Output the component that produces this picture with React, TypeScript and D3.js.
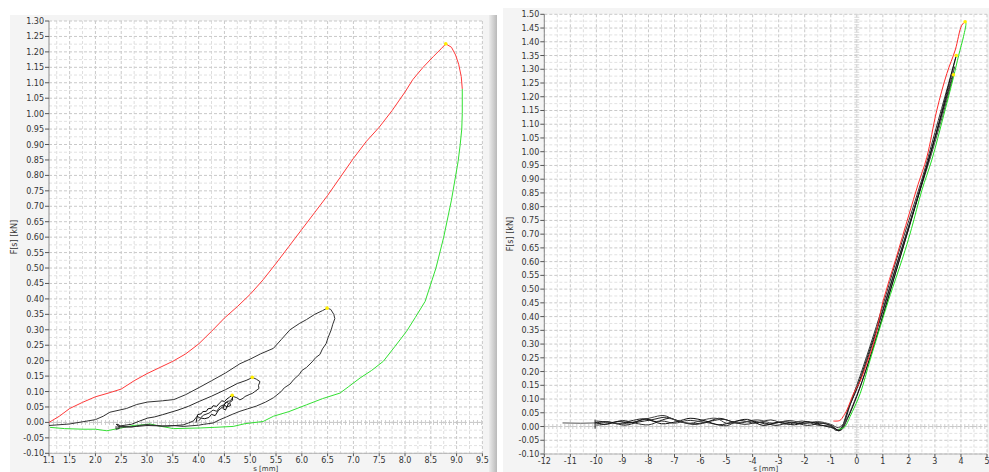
import React from "react";
import * as d3 from "d3";

type P = [number, number];

// ---------- LEFT PANEL DATA ----------
const leftXTicks = [1.1, 1.5, 2.0, 2.5, 3.0, 3.5, 4.0, 4.5, 5.0, 5.5, 6.0, 6.5, 7.0, 7.5, 8.0, 8.5, 9.0, 9.5];
const leftYTicks = d3.range(-2, 27).map((i) => i * 0.05);

const leftRed: P[] = [
  [1.1, 0.0], [1.3, 0.02], [1.5, 0.045], [1.75, 0.065], [2.0, 0.083], [2.25, 0.095], [2.5, 0.108],
  [2.75, 0.135], [3.0, 0.158], [3.25, 0.178], [3.5, 0.198], [3.75, 0.222], [4.0, 0.254], [4.25, 0.295],
  [4.5, 0.338], [4.75, 0.375], [5.0, 0.415], [5.25, 0.462], [5.5, 0.515], [5.75, 0.57], [6.0, 0.625],
  [6.25, 0.68], [6.5, 0.735], [6.75, 0.795], [7.0, 0.855], [7.25, 0.91], [7.5, 0.956], [7.75, 1.01],
  [8.0, 1.07], [8.15, 1.11], [8.35, 1.15], [8.55, 1.185], [8.7, 1.21], [8.79, 1.226], [8.9, 1.215],
  [8.98, 1.19], [9.04, 1.16], [9.09, 1.12], [9.11, 1.08],
];
const leftGreen: P[] = [
  [9.11, 1.08], [9.11, 1.0], [9.1, 0.95], [9.07, 0.9], [9.03, 0.846], [8.9, 0.72], [8.75, 0.6],
  [8.6, 0.5], [8.39, 0.392], [8.2, 0.34], [8.03, 0.295], [7.8, 0.245], [7.58, 0.198], [7.35, 0.168],
  [7.13, 0.144], [6.9, 0.115], [6.74, 0.095], [6.4, 0.077], [6.09, 0.057], [5.75, 0.035], [5.45, 0.02],
  [5.25, 0.003], [4.9, -0.004], [4.67, -0.013], [4.3, -0.016], [4.03, -0.018], [3.51, -0.02],
  [3.25, -0.012], [3.06, -0.005], [2.9, -0.008], [2.73, -0.01], [2.5, -0.018], [2.22, -0.027],
  [2.0, -0.022], [1.76, -0.022], [1.4, -0.02], [1.12, -0.016],
];
const leftMedium: P[] = [
  [1.1, -0.01], [1.5, -0.005], [2.0, 0.009], [2.15, 0.02], [2.28, 0.033], [2.6, 0.045], [2.8, 0.058],
  [3.01, 0.066], [3.3, 0.07], [3.52, 0.074], [3.75, 0.09], [4.01, 0.113], [4.25, 0.135], [4.52, 0.16],
  [4.8, 0.19], [5.0, 0.205], [5.2, 0.222], [5.45, 0.24], [5.6, 0.268], [5.77, 0.3], [5.95, 0.32],
  [6.09, 0.333], [6.25, 0.35], [6.4, 0.362], [6.49, 0.37], [6.56, 0.366], [6.62, 0.35], [6.64, 0.336],
  [6.6, 0.318], [6.57, 0.3], [6.51, 0.275], [6.47, 0.255], [6.4, 0.238], [6.35, 0.22], [6.27, 0.21],
  [6.2, 0.196], [6.09, 0.178], [6.0, 0.168], [5.95, 0.155], [5.85, 0.14], [5.77, 0.124], [5.66, 0.112],
  [5.6, 0.1], [5.45, 0.08], [5.3, 0.066], [5.12, 0.053], [4.95, 0.044], [4.8, 0.036], [4.65, 0.026],
  [4.54, 0.018], [4.4, 0.008], [4.28, -0.002], [4.1, -0.006], [4.0, -0.009], [3.7, -0.013], [3.5, -0.01],
  [3.3, -0.012], [3.0, -0.007], [2.85, -0.01], [2.7, -0.015], [2.45, -0.012],
];
const leftSmall: P[] = [
  [2.4, -0.012], [2.4, -0.022], [2.46, -0.02], [2.46, -0.008], [2.4, -0.006], [2.45, -0.012],
  [2.7, -0.006], [2.85, 0.004], [3.01, 0.014], [3.15, 0.018], [3.3, 0.025], [3.6, 0.04], [3.8, 0.052],
  [4.01, 0.068], [4.25, 0.085], [4.52, 0.106], [4.75, 0.126], [4.92, 0.136], [5.0, 0.142], [5.04, 0.146],
  [5.12, 0.14], [5.19, 0.132], [5.16, 0.12], [5.17, 0.11], [5.09, 0.1], [5.04, 0.094], [4.98, 0.09],
  [4.9, 0.084], [4.86, 0.078], [4.8, 0.073], [4.74, 0.08], [4.67, 0.084], [4.62, 0.07], [4.55, 0.068],
  [4.5, 0.058], [4.42, 0.052], [4.35, 0.036], [4.28, 0.04], [4.2, 0.03], [4.1, 0.024], [4.03, 0.014],
  [3.97, 0.02], [3.9, 0.005], [3.8, -0.002], [3.7, -0.008], [3.4, -0.012], [3.0, -0.01], [2.8, -0.013],
  [2.6, -0.015], [2.42, -0.015],
];
const leftTiny: P[] = [
  [3.95, 0.0], [3.98, 0.025], [4.05, 0.028], [4.08, 0.035], [4.15, 0.036], [4.18, 0.044], [4.25, 0.046],
  [4.28, 0.054], [4.35, 0.052], [4.4, 0.062], [4.45, 0.07], [4.5, 0.068], [4.55, 0.076], [4.6, 0.082],
  [4.65, 0.088], [4.66, 0.072], [4.6, 0.064], [4.62, 0.055], [4.55, 0.05], [4.5, 0.056], [4.47, 0.045],
  [4.52, 0.04], [4.58, 0.062], [4.53, 0.066], [4.48, 0.052], [4.42, 0.044], [4.38, 0.038], [4.32, 0.022],
  [4.25, 0.026], [4.2, 0.016], [4.12, 0.012], [4.05, 0.014], [4.0, 0.005],
];
const leftPeaks: P[] = [[8.79, 1.226], [6.49, 0.37], [5.04, 0.146], [4.65, 0.088]];

// ---------- RIGHT PANEL DATA ----------
const rightXTicks = d3.range(-12, 6);
const rightYTicks = d3.range(-2, 31).map((i) => i * 0.05);

const rightLead: P[] = [[-11.3, 0.013], [-10.6, 0.012], [-10.05, 0.013]];
const rightCross: P[] = [[-10.05, -0.008], [-10.05, 0.025]];

const rightRed: P[] = [
  [-0.9, 0.02], [-0.65, 0.022], [-0.5, 0.04], [-0.38, 0.06], [-0.1, 0.125], [0.13, 0.165], [0.4, 0.235],
  [0.64, 0.3], [1.02, 0.46], [1.5, 0.61], [2.0, 0.77], [2.35, 0.88], [2.69, 0.98], [3.07, 1.15],
  [3.46, 1.285], [3.78, 1.37], [4.03, 1.46], [4.16, 1.473],
];
const rightGreen: P[] = [
  [4.16, 1.473], [4.19, 1.467], [4.1, 1.42], [3.91, 1.35], [3.71, 1.27], [3.33, 1.13], [2.88, 0.97],
  [2.5, 0.86], [2.1, 0.72], [1.85, 0.64], [1.22, 0.46], [0.9, 0.363], [0.51, 0.242], [0.13, 0.12],
  [-0.26, 0.036], [-0.45, 0.0], [-0.57, -0.007], [-0.7, -0.01],
];
const rightBlack1: P[] = [
  [-10.05, 0.012], [-9.6, 0.018], [-9.2, 0.01], [-8.7, 0.02], [-8.2, 0.028], [-7.7, 0.018], [-7.2, 0.03],
  [-6.7, 0.015], [-6.2, 0.01], [-5.6, 0.02], [-5.1, 0.026], [-4.6, 0.012], [-4.0, 0.02], [-3.4, 0.008],
  [-2.8, 0.018], [-2.2, 0.01], [-1.6, 0.015], [-1.0, 0.005], [-0.75, -0.012], [-0.6, -0.006],
  [-0.3, 0.07], [0.0, 0.14], [0.5, 0.28], [1.0, 0.425], [1.5, 0.58], [2.0, 0.73], [2.5, 0.885],
  [3.0, 1.05], [3.4, 1.18], [3.71, 1.28],
];
const rightBlack2: P[] = [
  [-10.0, 0.005], [-9.5, 0.01], [-9.0, 0.022], [-8.5, 0.012], [-8.0, 0.006], [-7.5, 0.02], [-7.0, 0.012],
  [-6.5, 0.022], [-6.0, 0.018], [-5.5, 0.01], [-5.0, 0.003], [-4.5, 0.022], [-3.9, 0.012], [-3.3, 0.024],
  [-2.7, 0.008], [-2.1, 0.02], [-1.5, 0.005], [-1.0, 0.0], [-0.8, -0.014], [-0.62, -0.01], [-0.35, 0.06],
  [0.0, 0.15], [0.5, 0.29], [1.0, 0.44], [1.5, 0.6], [2.0, 0.75], [2.5, 0.9], [3.0, 1.07], [3.5, 1.24],
  [3.82, 1.35],
];
const rightBlack3: P[] = [
  [-10.0, 0.02], [-9.4, 0.014], [-8.9, 0.005], [-8.4, 0.016], [-7.9, 0.024], [-7.3, 0.034], [-6.9, 0.022],
  [-6.3, 0.008], [-5.8, 0.014], [-5.3, 0.03], [-4.8, 0.018], [-4.3, 0.008], [-3.7, 0.016], [-3.1, 0.004],
  [-2.5, 0.016], [-1.9, 0.004], [-1.3, 0.012], [-0.85, -0.005], [-0.7, -0.016], [-0.55, -0.004],
  [-0.25, 0.08], [0.1, 0.16], [0.6, 0.3], [1.1, 0.45], [1.6, 0.61], [2.1, 0.76], [2.6, 0.92],
  [3.1, 1.08], [3.5, 1.22], [3.76, 1.31],
];
const rightBlack4: P[] = [
  [3.71, 1.28], [3.55, 1.22], [3.2, 1.1], [2.8, 0.97], [2.3, 0.82], [1.8, 0.66], [1.3, 0.5],
  [0.8, 0.34], [0.3, 0.19], [-0.1, 0.09], [-0.45, 0.018], [-0.7, -0.004], [-1.0, 0.008], [-1.5, 0.018],
  [-2.0, 0.012], [-2.6, 0.022], [-3.2, 0.012], [-3.8, 0.024], [-4.4, 0.016], [-5.0, 0.012], [-5.4, 0.03],
  [-5.9, 0.024], [-6.4, 0.012], [-7.0, 0.024], [-7.4, 0.04], [-7.9, 0.032], [-8.4, 0.02], [-9.0, 0.01],
  [-9.5, 0.016], [-10.0, 0.01],
];
const rightBlack5: P[] = [
  [3.82, 1.35], [3.6, 1.27], [3.25, 1.14], [2.85, 1.0], [2.4, 0.85], [1.9, 0.69], [1.4, 0.53],
  [0.9, 0.37], [0.4, 0.22], [0.0, 0.11], [-0.35, 0.03], [-0.62, -0.014], [-0.9, -0.006], [-1.4, 0.006],
  [-1.9, 0.018], [-2.4, 0.006], [-3.0, 0.016], [-3.6, 0.004], [-4.2, 0.026], [-4.7, 0.018],
  [-5.3, 0.006], [-5.8, 0.02], [-6.4, 0.03], [-6.9, 0.018], [-7.5, 0.01], [-8.1, 0.028], [-8.6, 0.014],
  [-9.2, 0.018], [-9.7, 0.008], [-10.05, 0.016],
];
const rightPeaks: P[] = [[4.16, 1.473], [3.82, 1.35], [3.71, 1.28]];

type Series = { pts: P[]; color: string; curve: d3.CurveFactory; width?: number };

const fontFam = "'DejaVu Sans', Verdana, sans-serif";

function Panel(props: {
  xDomain: [number, number];
  xRange: [number, number];
  yDomain: [number, number];
  yRange: [number, number];
  xTicks: number[];
  yTicks: number[];
  xFmt: (v: number) => string;
  xMinor: number;
  yMinor: number;
  series: Series[];
  peaks: P[];
  zeroX: boolean;
  yLabelX: number;
  xLabelY: number;
}) {
  const { xDomain, xRange, yDomain, yRange, xTicks, yTicks, xFmt, xMinor, yMinor, series, peaks } = props;
  const x = d3.scaleLinear().domain(xDomain).range(xRange);
  const y = d3.scaleLinear().domain(yDomain).range(yRange);
  const [x0, x1] = xRange;
  const [yb, yt] = yRange;
  const eps = 1e-6;
  const xg = d3.range(Math.ceil(xDomain[0] / xMinor - eps), Math.floor(xDomain[1] / xMinor + eps) + 1).map((i) => i * xMinor);
  const yg = d3.range(Math.ceil(yDomain[0] / yMinor - eps), Math.floor(yDomain[1] / yMinor + eps) + 1).map((i) => i * yMinor);
  const isMajor = (v: number, step: number) => Math.abs(v / step - Math.round(v / step)) < 1e-6;
  return (
    <g>
      <rect x={x0} y={yt} width={x1 - x0} height={yb - yt} fill="#ffffff" />
      {xg.map((v, i) => (
        <line key={"xg" + i} x1={x(v)} x2={x(v)} y1={yt} y2={yb}
          stroke={isMajor(v, xMinor * 2) ? "#c9c9c9" : "#dedede"} strokeDasharray="3,2" strokeWidth={1} />
      ))}
      {yg.map((v, i) => (
        <line key={"yg" + i} x1={x0} x2={x1} y1={y(v)} y2={y(v)}
          stroke={isMajor(v, yMinor * 2) ? "#c9c9c9" : "#e2e2e2"} strokeDasharray="3,2" strokeWidth={1} />
      ))}
      {/* zero line pattern */}
      <line x1={x0} x2={x1} y1={y(0)} y2={y(0)} stroke="#d0d0d0" strokeWidth={5} strokeDasharray="1,3" />
      <line x1={x0} x2={x1} y1={y(0)} y2={y(0)} stroke="#c8c8c8" strokeWidth={1} strokeDasharray="4,3" />
      {props.zeroX && (
        <g>
          <line x1={x(0)} x2={x(0)} y1={yt} y2={yb} stroke="#d8d8d8" strokeWidth={5} strokeDasharray="1,1.5" />
        </g>
      )}
      {/* axes */}
      <line x1={x0} x2={x0} y1={yt} y2={yb} stroke="#8a8a8a" strokeWidth={1} />
      <line x1={x0} x2={x1} y1={yb} y2={yb} stroke="#b5b5b5" strokeWidth={1} />
      {yTicks.map((v, i) => (
        <g key={"yt" + i}>
          <line x1={x0 - 4} x2={x0} y1={y(v)} y2={y(v)} stroke="#555" />
          <text x={x0 - 5} y={y(v) + 3} textAnchor="end" fontSize={8} fill="#333" fontFamily={fontFam}>
            {v.toFixed(2)}
          </text>
        </g>
      ))}
      {xTicks.map((v, i) => (
        <g key={"xt" + i}>
          <line x1={x(v)} x2={x(v)} y1={yb} y2={yb + 3} stroke="#555" />
          <text x={x(v)} y={yb + 10} textAnchor="middle" fontSize={8} fill="#333" fontFamily={fontFam}>
            {xFmt(v)}
          </text>
        </g>
      ))}
      <text x={(x0 + x1) / 2} y={props.xLabelY} textAnchor="middle" fontSize={7} fill="#333" fontFamily={fontFam}>
        s [mm]
      </text>
      <text transform={`translate(${props.yLabelX},${(yt + yb) / 2}) rotate(-90)`} textAnchor="middle"
        fontSize={8} fill="#333" fontFamily={fontFam}>
        F[s] [kN]
      </text>
      {/* series */}
      {series.map((s, i) => {
        const line = d3.line<P>().x((d) => x(d[0])).y((d) => y(d[1])).curve(s.curve);
        return <path key={"s" + i} d={line(s.pts) || ""} fill="none" stroke={s.color} strokeWidth={s.width ?? 1} />;
      })}
      {peaks.map((p, i) => (
        <circle key={"pk" + i} cx={x(p[0])} cy={y(p[1])} r={1.8} fill="#ffee00" />
      ))}
    </g>
  );
}

export default function App() {
  const leftSeries: Series[] = [
    { pts: leftGreen, color: "#33e033", curve: d3.curveLinear },
    { pts: leftMedium, color: "#333333", curve: d3.curveLinear },
    { pts: leftSmall, color: "#2a2a2a", curve: d3.curveLinear },
    { pts: leftTiny, color: "#111111", curve: d3.curveLinear },
    { pts: leftRed, color: "#ff3a3a", curve: d3.curveLinear },
  ];
  const rightSeries: Series[] = [
    { pts: rightLead, color: "#555555", curve: d3.curveLinear },
    { pts: rightCross, color: "#111111", curve: d3.curveLinear },
    { pts: rightBlack1, color: "#222222", curve: d3.curveCatmullRom },
    { pts: rightBlack2, color: "#333333", curve: d3.curveCatmullRom },
    { pts: rightBlack3, color: "#222222", curve: d3.curveCatmullRom },
    { pts: rightBlack4, color: "#444444", curve: d3.curveCatmullRom },
    { pts: rightBlack5, color: "#111111", curve: d3.curveCatmullRom },
    { pts: rightGreen, color: "#22dd22", curve: d3.curveCatmullRom },
    { pts: rightRed, color: "#ff2a2a", curve: d3.curveCatmullRom },
  ];
  return (
    <svg width={989} height={472} style={{ position: "absolute", left: 0, top: 0, display: "block" }}>
      <defs>
        <linearGradient id="sep" x1="0" x2="1" y1="0" y2="0">
          <stop offset="0" stopColor="#ececec" />
          <stop offset="1" stopColor="#b9b9b9" />
        </linearGradient>
      </defs>
      <rect x={0} y={0} width={989} height={472} fill="#ffffff" />
      <rect x={10} y={15} width={479} height={457} fill="#f4f4f4" />
      <rect x={489} y={15} width={8} height={457} fill="url(#sep)" />
      <rect x={503} y={8} width={486} height={464} fill="#f4f4f4" />
      <Panel
        xDomain={[1.1, 9.5]} xRange={[49, 482.4]} yDomain={[-0.1, 1.3]} yRange={[453.3, 21]}
        xTicks={leftXTicks} yTicks={leftYTicks} xFmt={(v) => v.toFixed(1)} xMinor={0.25} yMinor={0.025}
        series={leftSeries} peaks={leftPeaks} zeroX={false} yLabelX={17} xLabelY={471}
      />
      <Panel
        xDomain={[-12, 5]} xRange={[544.3, 987]} yDomain={[-0.1, 1.5]} yRange={[454, 14.3]}
        xTicks={rightXTicks} yTicks={rightYTicks} xFmt={(v) => String(v)} xMinor={0.5} yMinor={0.025}
        series={rightSeries} peaks={rightPeaks} zeroX={true} yLabelX={513} xLabelY={471}
      />
    </svg>
  );
}
